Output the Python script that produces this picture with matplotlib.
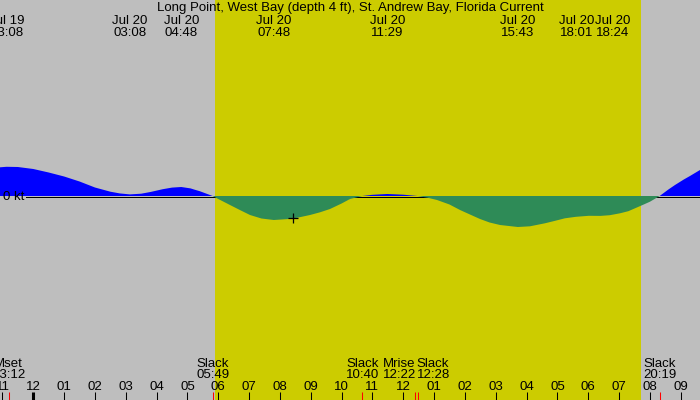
import matplotlib
matplotlib.use("Agg")
import matplotlib.pyplot as plt
import matplotlib.transforms as mtransforms
import numpy as np

# ---------------- data ----------------
title = "Long Point, West Bay (depth 4 ft), St. Andrew Bay, Florida Current"

# hours after Jul 20 00:00 ; current in knots (+ flood, - ebb)
hours = [-1.08, -0.867, -0.5, 0.0, 0.5, 1.0, 1.5, 2.0, 2.5, 2.8, 3.133, 3.5, 3.8,
         4.2, 4.5, 4.8, 5.1, 5.245, 5.4, 5.6, 5.817,
         6.0, 6.38, 6.7, 7.029, 7.4, 7.8, 8.3, 8.6, 8.976, 9.3, 9.624, 10.0, 10.273,
         10.667, 11.0, 11.483, 12.0, 12.467,
         12.8, 13.095, 13.5, 13.841, 14.2, 14.49, 14.8, 15.139, 15.717, 16.11, 16.595,
         16.9, 17.244, 17.6, 18.017, 18.4, 18.7, 19.03, 19.3, 19.517, 19.8, 20.003,
         20.317, 20.6, 20.814, 21.1, 21.3, 21.625]
speed_kt = [0.287, 0.292, 0.290, 0.270, 0.235, 0.195, 0.145, 0.085, 0.043, 0.026, 0.016, 0.023, 0.040,
            0.068, 0.084, 0.090, 0.076, 0.062, 0.048, 0.025, 0.0,
            -0.030, -0.090, -0.140, -0.190, -0.225, -0.240, -0.230, -0.215, -0.190, -0.163, -0.130, -0.075, -0.030,
            0.0, 0.012, 0.020, 0.013, 0.0,
            -0.018, -0.040, -0.085, -0.140, -0.190, -0.230, -0.265, -0.290, -0.310, -0.303, -0.273,
            -0.250, -0.223, -0.208, -0.198, -0.199, -0.192, -0.173, -0.152, -0.123, -0.085, -0.057,
            0.0, 0.065, 0.110, 0.165, 0.200, 0.260]

top_event_days = [19, 20, 20, 20, 20, 20, 20, 20]
top_event_times = ["23:08", "03:08", "04:48", "07:48", "11:29", "15:43", "18:01", "18:24"]

bottom_event_names = ["Mset", "Slack", "Slack", "Mrise", "Slack", "Slack"]
bottom_event_days = [19, 20, 20, 20, 20, 20]
bottom_event_times = ["23:12", "05:49", "10:40", "12:22", "12:28", "20:19"]

sunrise = "05:54"
sunset = "19:43"
now_hour = 8.42
now_speed = -0.217
x_range = (-1.08, 21.625)
y_range = (-2.04, 1.96)

# ---------------- helpers ----------------
def to_hours(day, hhmm):
    h, m = hhmm.split(":")
    return (day - 20) * 24 + int(h) + int(m) / 60.0

W, H = 700, 400
DPI = 100
px_per_h = W / (x_range[1] - x_range[0])

def spread(xs, min_gap_px):
    xs = list(xs)
    gap = min_gap_px / px_per_h
    for _ in range(20):
        for i in range(len(xs) - 1):
            d = xs[i + 1] - xs[i]
            if d < gap:
                s = (gap - d) / 2
                xs[i] -= s
                xs[i + 1] += s
    return xs

def yf(px):
    return 1 - px / H

FONT = "Liberation Sans"
FS = 9.5

# ---------------- figure ----------------
fig = plt.figure(figsize=(7, 4), dpi=DPI)
ax = fig.add_axes([0, 0, 1, 1])
ax.set_facecolor("#BEBEBE")
for s in ax.spines.values():
    s.set_visible(False)
ax.set_xticks([])
ax.set_yticks([])
ax.set_xlim(*x_range)
ax.set_ylim(*y_range)

trans = mtransforms.blended_transform_factory(ax.transData, ax.transAxes)

ax.axvspan(to_hours(20, sunrise), to_hours(20, sunset), color="#CCCC00", lw=0, zorder=0)

t = np.array(hours)
v = np.array(speed_kt)
ax.fill_between(t, v, 0, where=v >= 0, interpolate=True, color="#0000FF", lw=0, zorder=2)
# zero line sits on the pixel row just below the zero boundary
half_px_down = ax.transData + mtransforms.ScaledTranslation(0, -0.5 / DPI, fig.dpi_scale_trans)
ax.plot([x_range[0] + 26 / px_per_h, x_range[1]], [0, 0], color="black", lw=0.72,
        zorder=3, transform=half_px_down)
ax.fill_between(t, v, 0, where=v <= 0, interpolate=True, color="#2E8B57", lw=0, zorder=4)
ax.plot([now_hour], [now_speed], marker="+", color="black", ms=7, mew=0.9, zorder=6)

ax.text(3 / W, yf(200), "0 kt", transform=ax.transAxes, ha="left", va="baseline",
        fontsize=FS, family=FONT, zorder=7)

# title
ax.text(0.5, yf(11), title, transform=ax.transAxes, ha="center", va="baseline",
        fontsize=FS, family=FONT, zorder=7)

# top events
top_x = [to_hours(d, tm) for d, tm in zip(top_event_days, top_event_times)]
top_x = spread(top_x, 36)
for x, d, tm in zip(top_x, top_event_days, top_event_times):
    ax.text(x, yf(24), "Jul %d" % d, transform=trans, ha="center", va="baseline",
            fontsize=FS, family=FONT, zorder=7)
    ax.text(x, yf(36.5), tm, transform=trans, ha="center", va="baseline",
            fontsize=FS, family=FONT, zorder=7)

# bottom events
bot_h = [to_hours(d, tm) for d, tm in zip(bottom_event_days, bottom_event_times)]
bot_x = spread(bot_h, 34)
for x, name, tm in zip(bot_x, bottom_event_names, bottom_event_times):
    ax.text(x, yf(367), name, transform=trans, ha="center", va="baseline",
            fontsize=FS, family=FONT, zorder=7)
    ax.text(x, yf(378.5), tm, transform=trans, ha="center", va="baseline",
            fontsize=FS, family=FONT, zorder=7)

# hour ticks
for h in range(-1, 22):
    lw = 2.2 if h % 24 == 0 else 0.75
    ax.plot([h, h], [0, 8 / H], transform=trans, color="black", lw=lw, zorder=7,
            solid_capstyle="butt")
    lab = "%02d" % ((h % 12) or 12)
    ax.text(h, yf(389.5), lab, transform=trans, ha="center", va="baseline",
            fontsize=FS, family=FONT, zorder=7)

for h in bot_h:
    ax.plot([h, h], [0, 8 / H], transform=trans, color="red", lw=0.75, zorder=7,
            solid_capstyle="butt")

fig.savefig("out.png", dpi=DPI)
